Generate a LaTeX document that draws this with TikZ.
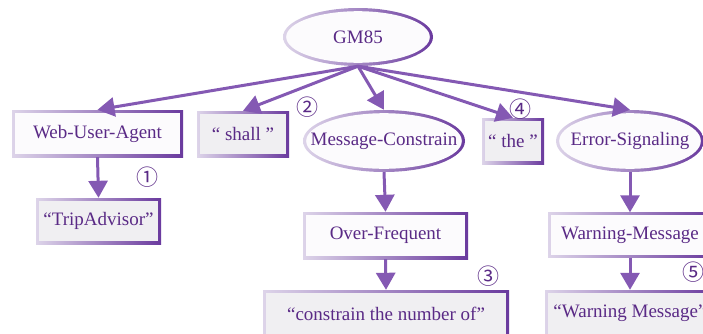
\documentclass[tikz,border=0pt]{standalone}
\usepackage{fontspec}
\setmainfont{Liberation Serif}
\newfontfamily\circfont{Noto Sans CJK SC}
\usetikzlibrary{shapes.geometric,arrows.meta,calc}

\definecolor{borderlight}{HTML}{DDD4E9}
\definecolor{borderdark}{HTML}{6A3A9E}
\definecolor{labeltext}{HTML}{5A2A86}
\definecolor{arrowpurple}{HTML}{8459B3}
\definecolor{conceptfill}{HTML}{FCFBFD}
\definecolor{wordfill}{HTML}{F0EFF2}

\tikzset{
  basenode/.style={inner sep=0pt, text=labeltext,
    font=\fontsize{19}{22}\selectfont,
    left color=borderlight, right color=borderdark},
  % rectangle whose frame fades from light (left) to dark (right)
  framebox/.style 2 args={basenode, rectangle,
    minimum width=#1, minimum height=#2},
  conceptbox/.style 2 args={framebox={#1}{#2},
    path picture={\fill[conceptfill]
      ($(path picture bounding box.south west)+(2.6pt,2.6pt)$) rectangle
      ($(path picture bounding box.north east)+(-2.6pt,-2.6pt)$);}},
  wordbox/.style 2 args={framebox={#1}{#2},
    path picture={\fill[wordfill]
      ($(path picture bounding box.south west)+(2.6pt,2.6pt)$) rectangle
      ($(path picture bounding box.north east)+(-2.6pt,-2.6pt)$);}},
  % ellipse with the same fading frame; its size is fixed, not taken from the text
  conceptoval/.style 2 args={basenode, ellipse, inner xsep=-40pt,
    minimum width=#1, minimum height=#2,
    path picture={\fill[conceptfill]
      let \p1=($(path picture bounding box.north east)-(path picture bounding box.center)$)
      in (path picture bounding box.center) ellipse [x radius=\x1-3.2pt, y radius=\y1-3.2pt];}},
  link/.style={draw=arrowpurple, line width=3pt,
    -{Triangle[length=17pt,width=19pt]}},
  marker/.style={text=labeltext, font=\circfont\fontsize{22}{24}\selectfont, inner sep=0pt}
}

\begin{document}
\begin{tikzpicture}[x=1pt,y=-1pt]
  \useasboundingbox (0,0) rectangle (703,333);
  \clip (0,0) rectangle (703,333);

  % top concept
  \node[conceptoval={150pt}{58pt}] (gm) at (358,37) {GM85};

  % second row
  \node[conceptbox={171pt}{47pt}] (wua) at (97.5,133.5) {Web-User-Agent};
  \node[wordbox={92pt}{46pt}] (shall) at (243,134) {“ shall ”};
  \node[conceptoval={162pt}{62pt}] (mc) at (384,141) {Message-Constrain};
  \node[wordbox={62pt}{46pt}] (the) at (513,141) {“ the ”};
  \node[conceptoval={148pt}{62pt}] (es) at (630,141) {Error-Signaling};

  % third row
  \node[wordbox={125pt}{46pt}] (trip) at (98.5,221) {“TripAdvisor”};
  \node[conceptbox={165pt}{47pt}] (of) at (385.5,235.5) {Over-Frequent};
  \node[conceptbox={164pt}{45pt}] (wm) at (630,235) {Warning-Message};

  % bottom row
  \node[wordbox={246pt}{47pt}] (cn) at (386,313.5) {“constrain the number of”};
  \node[wordbox={170pt}{47pt}] (wmq) at (630,313.5) {“Warning Message”};

  % numbered markers
  \node[marker] (m1) at (147,177) {①};
  \node[marker] (m2) at (307,107) {②};
  \node[marker] (m3) at (488,276) {③};
  \node[marker] (m4) at (520,109) {④};
  \node[marker] (m5) at (693,272) {⑤};

  % connectors
  \foreach \child in {wua,shall,mc,the,es}
    \draw[link] (gm.south) -- (\child.north);
  \draw[link] (wua.south) -- (trip.north);
  \draw[link] (mc.south) -- (of.north);
  \draw[link] (of.south) -- (cn.north);
  \draw[link] (es.south) -- (wm.north);
  \draw[link] (wm.south) -- (wmq.north);
\end{tikzpicture}
\end{document}
